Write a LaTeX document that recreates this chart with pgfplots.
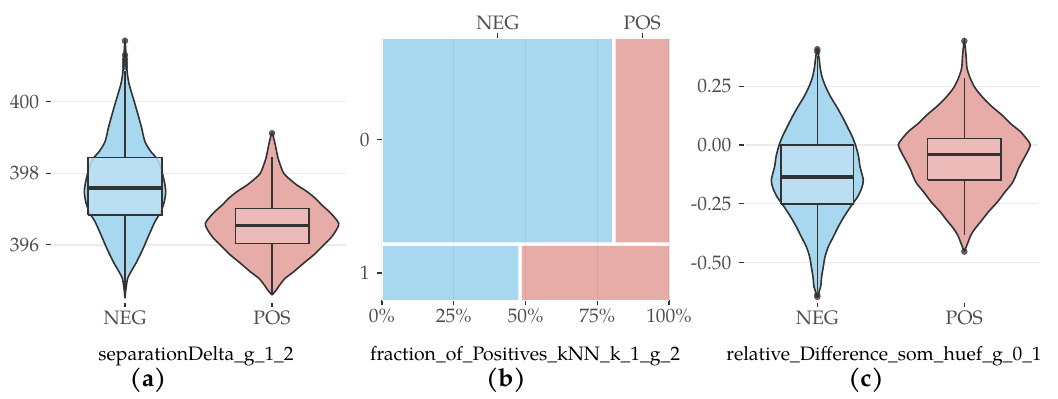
\documentclass[border=0pt]{standalone}
\usepackage{pgfplots}
\pgfplotsset{compat=1.18}
\usepackage{fontspec}
\setmainfont{TeX Gyre Pagella}
\definecolor{negv}{RGB}{168,216,240}
\definecolor{negb}{RGB}{190,225,244}
\definecolor{posv}{RGB}{231,171,168}
\definecolor{posb}{RGB}{237,189,187}
\definecolor{dk}{RGB}{51,51,51}
\definecolor{tk}{RGB}{77,77,77}
\definecolor{gridc}{RGB}{235,235,235}
\newcommand\tlfont{\fontsize{19.5}{22}\selectfont}
\pgfplotsset{
 base/.style={scale only axis, anchor=south west,
   axis x line*=bottom, axis y line*=left,
   every tick/.style={draw=dk, line width=1.1bp},
   major tick length=5bp, tick align=outside,
   ticklabel style={font=\tlfont, text=tk},
   yticklabel style={xshift=-4bp}},
 hid/.style={axis line style={white, line width=0.2bp, -}},
 vio/.style={draw=dk, line width=1.6bp, smooth, tension=0.45},
 bx/.style={draw=dk, line width=1.6bp},
 wh/.style={dk, line width=1.6bp},
 med/.style={dk, line width=3.8bp},
 outl/.style={only marks, mark=*, mark size=3bp, mark options={fill=dk, draw=dk, opacity=0.75}},
}
\begin{document}
\begin{tikzpicture}[x=1bp,y=1bp]
\path[use as bounding box] (0,0) rectangle (1058,398);

% ---------- (a) ----------
\begin{axis}[base, hid, at={(51.5bp,96bp)}, width=294bp, height=272bp,
  xmin=-73.5, xmax=220.5, ymin=394.405, ymax=402.003,
  xtick={0,147}, xticklabels={NEG,POS},
  ytick={396,398,400}, yticklabels={396,398,400},
  ymajorgrids, grid style={draw=gridc, line width=1.3bp}]
\addplot[vio, fill=negv] coordinates {(0,394.51) (1,394.79) (2.7,395.07) (6,395.25) (11.7,395.53) (18.3,395.91) (24,396.28) (30,396.65) (36,396.93) (39.3,397.21) (40.7,397.49) (39.3,397.77) (36,398.14) (31.7,398.42) (26,398.60) (20,398.88) (16.7,399.26) (14,399.54) (9.3,400.00) (4.3,400.47) (2.3,400.79) (1.2,401.2) (0,401.70)
 (-1.2,401.2) (-2.3,400.79) (-4.3,400.47) (-9.3,400.00) (-14,399.54) (-16.7,399.26) (-20,398.88) (-26,398.60) (-31.7,398.42) (-36,398.14) (-39.3,397.77) (-40.7,397.49) (-39.3,397.21) (-36,396.93) (-30,396.65) (-24,396.28) (-18.3,395.91) (-11.7,395.53) (-6,395.25) (-2.7,395.07) (-1,394.79) (0,394.51)};
\addplot[vio, fill=posv] coordinates {(147,394.60) (151.3,394.74) (154.7,394.88) (160.3,395.07) (168.7,395.25) (178.7,395.49) (188.7,395.72) (197,395.95) (205.3,396.18) (210.3,396.37) (213.7,396.60) (206,396.88) (197,397.11) (190.3,397.30) (182,397.49) (172,397.67) (163.7,397.86) (158.7,398.00) (155.3,398.23) (152.7,398.46) (150.3,398.79) (147,399.12)
 (143.7,398.79) (141.3,398.46) (138.7,398.23) (135.3,398.00) (130.3,397.86) (122,397.67) (112,397.49) (103.7,397.30) (97,397.11) (88,396.88) (80.3,396.60) (83.7,396.37) (88.7,396.18) (97,395.95) (105.3,395.72) (115.3,395.49) (125.3,395.25) (133.7,395.07) (139.3,394.88) (142.7,394.74) (147,394.60)};
\addplot[wh] coordinates {(0,398.44) (0,400.85)};
\addplot[wh] coordinates {(0,396.84) (0,394.51)};
\addplot[wh] coordinates {(147,397.02) (147,398.46)};
\addplot[wh] coordinates {(147,396.04) (147,394.60)};
\addplot[bx, fill=negb, fill opacity=0.85] coordinates {(-37,396.84) (37,396.84) (37,398.44) (-37,398.44) (-37,396.84)};
\addplot[bx, fill=posb, fill opacity=0.85] coordinates {(110.3,396.04) (183.7,396.04) (183.7,397.02) (110.3,397.02) (110.3,396.04)};
\addplot[med] coordinates {(-37,397.60) (37,397.60)};
\addplot[med] coordinates {(110.3,396.54) (183.7,396.54)};
\addplot[outl] coordinates {(0,401.70) (0,401.30) (0,401.18) (0,401.08) (0,400.98) (147,399.12)};
\end{axis}

% ---------- (b) ----------
\begin{axis}[base, hid, at={(382bp,98bp)}, width=287bp, height=262bp,
  xmin=0, xmax=1, ymin=0, ymax=1,
  xtick={0,0.25,0.5,0.75,1}, xticklabels={0\%,25\%,50\%,75\%,100\%},
  ytick={0.103,0.611}, yticklabels={1,0},
  xmajorgrids, grid style={draw=black, draw opacity=0.06, line width=1.3bp}, axis on top]
\addplot[fill=negv, draw=none] coordinates {(0,0.220) (0.801,0.220) (0.801,1) (0,1) (0,0.220)};
\addplot[fill=posv, draw=none] coordinates {(0.814,0.220) (1,0.220) (1,1) (0.814,1) (0.814,0.220)};
\addplot[fill=negv, draw=none] coordinates {(0,0) (0.475,0) (0.475,0.207) (0,0.207) (0,0)};
\addplot[fill=posv, draw=none] coordinates {(0.487,0) (1,0) (1,0.207) (0.487,0.207) (0.487,0)};
\end{axis}
\begin{axis}[base, hid, at={(382bp,98bp)}, width=287bp, height=262bp,
  xmin=0, xmax=1, ymin=0, ymax=1,
  axis x line*=top, axis y line=none,
  xtick={0.403,0.907}, xticklabels={NEG,POS}, ytick=\empty]
\addplot[draw=none] coordinates {(0,0) (1,1)};
\end{axis}

% ---------- (c) ----------
\begin{axis}[base, hid, at={(743.8bp,96bp)}, width=294bp, height=272bp,
  xmin=-73.5, xmax=220.5, ymin=-0.6672, ymax=0.4887,
  xtick={0,147}, xticklabels={NEG,POS},
  ytick={-0.5,-0.25,0,0.25}, yticklabels={-0.50,-0.25,0.00,0.25},
  ymajorgrids, grid style={draw=gridc, line width=1.3bp}]
\addplot[vio, fill=negv] coordinates {(0,-0.645) (3.3,-0.602) (4.3,-0.560) (6,-0.517) (7.7,-0.475) (11,-0.432) (16,-0.390) (21,-0.347) (26.7,-0.305) (33.3,-0.262) (40.3,-0.220) (44.3,-0.184) (46,-0.149) (42.7,-0.092) (41.3,-0.050) (38.7,-0.007) (35,0.035) (30,0.078) (25,0.120) (19.3,0.163) (13.3,0.205) (8.3,0.248) (4.7,0.290) (2.7,0.333) (2,0.361) (0,0.407)
 (-2,0.361) (-2.7,0.333) (-4.7,0.290) (-8.3,0.248) (-13.3,0.205) (-19.3,0.163) (-25,0.120) (-30,0.078) (-35,0.035) (-38.7,-0.007) (-41.3,-0.050) (-42.7,-0.092) (-46,-0.149) (-44.3,-0.184) (-40.3,-0.220) (-33.3,-0.262) (-26.7,-0.305) (-21,-0.347) (-16,-0.390) (-11,-0.432) (-7.7,-0.475) (-6,-0.517) (-4.3,-0.560) (-3.3,-0.602) (0,-0.645)};
\addplot[vio, fill=posv] coordinates {(147,-0.453) (150.3,-0.418) (153.7,-0.382) (158,-0.354) (164.7,-0.319) (171.3,-0.283) (180.3,-0.241) (188,-0.198) (194.7,-0.163) (198,-0.135) (201.3,-0.099) (205.7,-0.064) (210.3,-0.028) (213,0) (210.3,0.021) (203,0.057) (193,0.092) (184.7,0.127) (174.7,0.163) (166.3,0.198) (158,0.241) (153,0.283) (149.7,0.326) (148.7,0.382) (147,0.442)
 (145.3,0.382) (144.3,0.326) (141,0.283) (136,0.241) (127.7,0.198) (119.3,0.163) (109.3,0.127) (101,0.092) (91,0.057) (83.7,0.021) (81,0) (83.7,-0.028) (88.3,-0.064) (92.7,-0.099) (96,-0.135) (99.3,-0.163) (106,-0.198) (113.7,-0.241) (122.7,-0.283) (129.3,-0.319) (136,-0.354) (140.3,-0.382) (143.7,-0.418) (147,-0.453)};
\addplot[wh] coordinates {(0,0) (0,0.38)};
\addplot[wh] coordinates {(0,-0.251) (0,-0.62)};
\addplot[wh] coordinates {(147,0.028) (147,0.283)};
\addplot[wh] coordinates {(147,-0.149) (147,-0.382)};
\addplot[bx, fill=negb, fill opacity=0.85] coordinates {(-36.3,-0.251) (36.3,-0.251) (36.3,0) (-36.3,0) (-36.3,-0.251)};
\addplot[bx, fill=posb, fill opacity=0.85] coordinates {(110.2,-0.149) (183.8,-0.149) (183.8,0.028) (110.2,0.028) (110.2,-0.149)};
\addplot[med] coordinates {(-36.3,-0.135) (36.3,-0.135)};
\addplot[med] coordinates {(110.2,-0.040) (183.8,-0.040)};
\addplot[outl] coordinates {(0,0.407) (0,0.397) (0,-0.645) (0,-0.636) (147,0.442) (147,-0.453)};
\end{axis}

% ---------- titles ----------
\node[anchor=base, font=\fontsize{19.5}{22}\selectfont] at (196,38) {separationDelta\_g\_1\_2};
\node[anchor=base, font=\fontsize{19.5}{22}\selectfont] at (525,38) {fraction\_of\_Positives\_kNN\_k\_1\_g\_2};
\node[anchor=base, font=\fontsize{19.5}{22}\selectfont] at (884,38) {relative\_Difference\_som\_huef\_g\_0\_1};
\node[anchor=base, font=\bfseries\fontsize{25}{28}\selectfont] at (148,12) {(a)};
\node[anchor=base, font=\bfseries\fontsize{25}{28}\selectfont] at (506,12) {(b)};
\node[anchor=base, font=\bfseries\fontsize{25}{28}\selectfont] at (866,12) {(c)};
\end{tikzpicture}
\end{document}
